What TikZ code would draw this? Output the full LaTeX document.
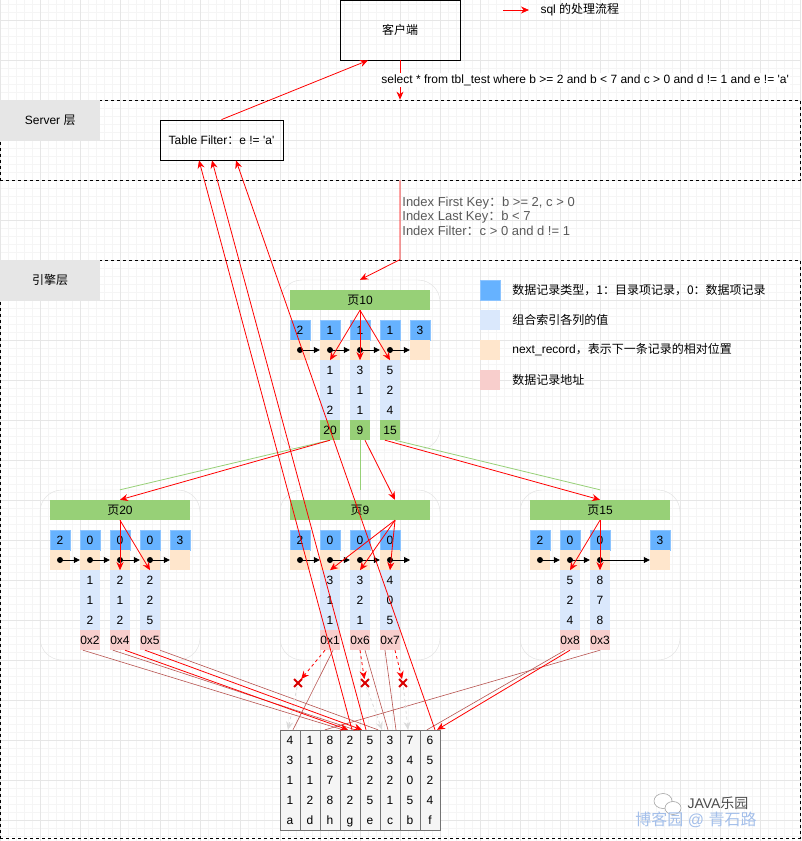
\documentclass[tikz,border=0pt]{standalone}
\usepackage{fontspec}
\setmainfont{Liberation Sans}[Ligatures=TeXOff]
\newfontfamily\cjk{Noto Sans CJK SC}
\usepackage{tikz}
\usetikzlibrary{positioning, arrows.meta, shapes.misc}

\definecolor{typeblue}{HTML}{66B2FF}
\definecolor{typeline}{HTML}{8CC4FF}
\definecolor{valblue}{HTML}{DAE8FC}
\definecolor{nextorange}{HTML}{FFE6CC}
\definecolor{addrpink}{HTML}{F8CECC}
\definecolor{pagegreen}{HTML}{97D077}
\definecolor{rowbrown}{HTML}{B85450}
\definecolor{layergray}{HTML}{E6E6E6}
\definecolor{gridmajor}{HTML}{E6E6E6}
\definecolor{gridminor}{HTML}{F5F5F5}
\definecolor{idxgray}{HTML}{5A5A5A}
\definecolor{markblue}{HTML}{A4BFEA}

\begin{document}
\begin{tikzpicture}[
  x=1pt, y=-1pt,
  font=\fontsize{12}{14}\selectfont,
  cell/.style={minimum width=20pt, minimum height=20pt, inner sep=0pt},
  typecell/.style={cell, fill=typeblue, draw=typeline},
  nextcell/.style={cell, fill=nextorange},
  valcell/.style={cell, fill=valblue},
  addrcell/.style={cell, fill=addrpink},
  ptrcell/.style={cell, fill=pagegreen},
  pagehead/.style={fill=pagegreen, minimum width=140pt, minimum height=20pt, inner sep=0pt},
  pagebox/.style={draw=black!12, rounded corners=22pt, minimum width=160pt, minimum height=170pt, inner sep=0pt},
  layer/.style={draw, dash pattern=on 3pt off 3pt, line width=0.8pt, minimum width=800pt, inner sep=0pt},
  layertag/.style={fill=layergray, minimum width=100pt, minimum height=40pt, inner sep=0pt},
  box/.style={draw, line width=0.8pt, inner sep=2pt},
  tabcol/.style={draw=black!55, fill=black!4, minimum width=20pt, minimum height=100pt, inner sep=0pt, align=center, text depth=0pt, font=\fontsize{12}{20}\selectfont},
  dropmark/.style={draw=red!85!black, cross out, line width=1.8pt, minimum size=6pt, inner sep=0pt},
  flow/.style={-{Stealth[length=8pt, width=7pt]}, red, line width=0.8pt},
  dropflow/.style={flow, dash pattern=on 3pt off 3pt},
  ghost/.style={-{Stealth[length=8pt, width=7pt]}, black!14, dash pattern=on 3pt off 3pt, line width=0.8pt},
  nextptr/.style={-{Triangle[length=6pt, width=6pt]}, line width=0.8pt},
  pagelink/.style={pagegreen, line width=0.8pt},
  rowref/.style={rowbrown, line width=0.6pt}
]
% --- grid ---
\useasboundingbox (0,0) rectangle (801,841);
\fill[white] (0,0) rectangle (801,841);
\foreach \gx in {0,8,...,800} \draw[gridminor, line width=0.5pt] (\gx,0) -- (\gx,841);
\foreach \gy in {4,12,...,836} \draw[gridminor, line width=0.5pt] (0,\gy) -- (801,\gy);
\foreach \gx in {0,40,...,800} \draw[gridmajor, line width=0.6pt] (\gx,0) -- (\gx,841);
\foreach \gy in {20,60,...,820} \draw[gridmajor, line width=0.6pt] (0,\gy) -- (801,\gy);

% --- layers ---
\node[layer, minimum height=80pt] (srv) at (400,140) {};
\node[layertag, anchor=north west] (srvtag) at (0,100) {Server {\cjk 层}};
\node[layer, minimum height=578pt] (eng) at (400,549) {};
\node[layertag, anchor=north west] (engtag) at (0,260) {{\cjk 引擎层}};

% --- client, server ---
\node[box, minimum width=120pt, minimum height=60pt] (client) at (400,30) {{\cjk 客户端}};
\node[box, minimum width=123pt, minimum height=40pt] (tf) at (221.5,140) {Table Filter{\cjk ：}e != 'a'};
\coordinate (lgs) at (503,10);
\coordinate (lge) at (529,10);
\draw[flow] (lgs) -- (lge);
\node[anchor=west] (lgtxt) at (537,10) {sql {\cjk 的处理流程}};

% --- legend ---
\node[typecell] (lgtype) at (490,290) {};
\node[right=12pt of lgtype, inner sep=0pt] {{\cjk 数据记录类型，1：目录项记录，0：数据项记录}};
\node[valcell] (lgval) at (490,320) {};
\node[right=12pt of lgval, inner sep=0pt] {{\cjk 组合索引各列的值}};
\node[nextcell] (lgnext) at (490,350) {};
\node[right=12pt of lgnext, inner sep=0pt] {next\_record{\cjk ，表示下一条记录的相对位置}};
\node[addrcell] (lgaddr) at (490,380) {};
\node[right=12pt of lgaddr, inner sep=0pt] {{\cjk 数据记录地址}};

% --- page 10 ---
\node[pagebox] (p10box) at (360,365) {};
\node[pagehead] (p10h) at (360,300) {{\cjk 页}10};
\foreach \i/\cx/\t in {1/300/2, 2/330/1, 3/360/1, 4/390/1, 5/420/3} {
  \node[typecell] (p10t\i) at (\cx,330) {\t};
  \node[nextcell] (p10n\i) at (\cx,350) {};
}
\foreach \i/\cx/\va/\vb/\vc/\pg in {2/330/1/1/2/20, 3/360/3/1/1/9, 4/390/5/2/4/15} {
  \node[valcell] (p10b\i) at (\cx,370) {\va};
  \node[valcell] (p10c\i) at (\cx,390) {\vb};
  \node[valcell] (p10d\i) at (\cx,410) {\vc};
  \node[ptrcell] (p10p\i) at (\cx,430) {\pg};
}
\foreach \i/\j in {1/2, 2/3, 3/4, 4/5} {
  \fill (p10n\i.center) circle (3pt);
  \draw[nextptr] (p10n\i.center) -- (p10n\j.west);
}

% --- page 20 ---
\node[pagebox] (p20box) at (120,575) {};
\node[pagehead] (p20h) at (120,510) {{\cjk 页}20};
\foreach \i/\cx/\t in {1/60/2, 2/90/0, 3/120/0, 4/150/0, 5/180/3} {
  \node[typecell] (p20t\i) at (\cx,540) {\t};
  \node[nextcell] (p20n\i) at (\cx,560) {};
}
\foreach \i/\cx/\va/\vb/\vc/\ad in {2/90/1/1/2/0x2, 3/120/2/1/2/0x4, 4/150/2/2/5/0x5} {
  \node[valcell] (p20b\i) at (\cx,580) {\va};
  \node[valcell] (p20c\i) at (\cx,600) {\vb};
  \node[valcell] (p20d\i) at (\cx,620) {\vc};
  \node[addrcell] (p20a\i) at (\cx,640) {\ad};
}
\foreach \i/\j in {1/2, 2/3, 3/4, 4/5} {
  \fill (p20n\i.center) circle (3pt);
  \draw[nextptr] (p20n\i.center) -- (p20n\j.west);
}

% --- page 9 ---
\node[pagebox] (p9box) at (360,575) {};
\node[pagehead] (p9h) at (360,510) {{\cjk 页}9};
\foreach \i/\cx/\t in {1/300/2, 2/330/0, 3/360/0, 4/390/0} {
  \node[typecell] (p9t\i) at (\cx,540) {\t};
  \node[nextcell] (p9n\i) at (\cx,560) {};
}
\foreach \i/\cx/\va/\vb/\vc/\ad in {2/330/3/1/1/0x1, 3/360/3/2/1/0x6, 4/390/4/0/5/0x7} {
  \node[valcell] (p9b\i) at (\cx,580) {\va};
  \node[valcell] (p9c\i) at (\cx,600) {\vb};
  \node[valcell] (p9d\i) at (\cx,620) {\vc};
  \node[addrcell] (p9a\i) at (\cx,640) {\ad};
}
\coordinate (p9tail) at (410,560);
\foreach \i/\j in {1/2, 2/3, 3/4} {
  \fill (p9n\i.center) circle (3pt);
  \draw[nextptr] (p9n\i.center) -- (p9n\j.west);
}
\fill (p9n4.center) circle (3pt);
\draw[nextptr] (p9n4.center) -- (p9tail);

% --- page 15 ---
\node[pagebox] (p15box) at (600,575) {};
\node[pagehead] (p15h) at (600,510) {{\cjk 页}15};
\foreach \i/\cx/\t in {1/540/2, 2/570/0, 3/600/0, 4/660/3} {
  \node[typecell] (p15t\i) at (\cx,540) {\t};
  \node[nextcell] (p15n\i) at (\cx,560) {};
}
\foreach \i/\cx/\va/\vb/\vc/\ad in {2/570/5/2/4/0x8, 3/600/8/7/8/0x3} {
  \node[valcell] (p15b\i) at (\cx,580) {\va};
  \node[valcell] (p15c\i) at (\cx,600) {\vb};
  \node[valcell] (p15d\i) at (\cx,620) {\vc};
  \node[addrcell] (p15a\i) at (\cx,640) {\ad};
}
\foreach \i/\j in {1/2, 2/3, 3/4} {
  \fill (p15n\i.center) circle (3pt);
  \draw[nextptr] (p15n\i.center) -- (p15n\j.west);
}

% --- table rows ---
\foreach \k/\cx/\ra/\rb/\rc/\rd in {a/290/4/3/1/1, d/310/1/1/1/2, h/330/8/8/7/8, g/350/2/2/1/2, e/370/5/2/2/5, c/390/3/3/2/1, b/410/7/4/0/5, f/430/6/5/2/4}
  \node[tabcol] (tcol-\k) at (\cx,780) {\ra\\\rb\\\rc\\\rd\\\k};

% --- filtered records ---
\node[dropmark] (x1) at (298,683) {};
\node[dropmark] (x2) at (365,683) {};
\node[dropmark] (x3) at (403,683) {};

% --- watermark ---
\draw[black!35, line width=0.6pt, fill=white] (663,801) ellipse (9pt and 7.5pt);
\draw[black!35, line width=0.6pt, fill=white] (673,808) ellipse (8pt and 6.5pt);
\node[text=black!70, font=\fontsize{14}{16}\selectfont] (wmjava) at (718,803) {JAVA{\cjk 乐园}};
\node[text=markblue, font=\fontsize{16}{18}\selectfont] (wmblog) at (696,820) {{\cjk 博客园} @ {\cjk 青石路}};

% --- sql flow ---
\draw[flow] (client.south) -- (srv.north)
  node[pos=0.5, anchor=west, xshift=-20pt, fill=white, text=black, inner sep=1pt] (sqltxt) {select * from tbl\_test where b >= 2 and b < 7 and c > 0 and d != 1 and e != 'a'};
\draw[flow] (srv.south) -- (eng.north)
  node[pos=0.45, anchor=west, align=left, inner sep=2pt, text=idxgray, font=\fontsize{13}{14.5}\selectfont] (idxtxt) {Index First Key{\cjk ：}b >= 2, c > 0\\Index Last Key{\cjk ：}b < 7\\Index Filter{\cjk ：}c > 0 and d != 1}
  -- (p10box.north);
\draw[flow] (tf.north) -- ([xshift=-32pt]client.south);

% --- page 10 -> leaves ---
\draw[pagelink] (p10p2.south) -- (p20box.north);
\draw[pagelink] (p10p3.south) -- (p9box.north);
\draw[pagelink] ([xshift=5pt]p10p4.south) -- (p15box.north);
\draw[flow] (p10p2.south) -- (p20h.north);
\draw[flow] ([xshift=5pt]p10p3.south) -- ([xshift=35pt]p9h.north);
\draw[flow] ([xshift=-5pt]p10p4.south) -- (p15h.north);
\foreach \i in {2,3,4} \draw[flow] (p10h.south) -- (p10n\i.south);
\foreach \i in {3,4} \draw[flow] (p20h.south) -- (p20n\i.south);
\foreach \i in {2,3,4} \draw[flow] ([xshift=35pt]p9h.south) -- (p9n\i.south);
\foreach \i in {2,3} \draw[flow] (p15h.south) -- (p15n\i.south);

% --- record addresses -> table ---
\draw[rowref] ([xshift=-7pt]p20a2.south) -- ([xshift=-7pt]tcol-g.north);
\draw[rowref] ([xshift=-7pt]p20a3.south) -- ([xshift=5pt]tcol-g.north);
\draw[rowref] ([xshift=10pt]p20a4.south) -- ([xshift=8pt]tcol-e.north);
\draw[rowref] ([xshift=3pt]p9a2.south) -- ([xshift=3pt]tcol-a.north);
\draw[rowref] ([xshift=5pt]p9a3.south) -- ([xshift=-2pt]tcol-c.north);
\draw[rowref] ([xshift=-5pt]p9a4.south) -- ([xshift=-14pt]tcol-b.north);
\draw[rowref] ([xshift=-5pt]p15a2.south) -- ([xshift=-3pt]tcol-f.north);
\draw[rowref] (p15a3.south) -- ([xshift=-5pt]tcol-h.north);
\draw[dropflow] ([xshift=-5pt]p9a2.south) -- (x1);
\draw[dropflow] (p9a3.south) -- (x2);
\draw[dropflow] ([xshift=5pt]p9a4.south) -- (x3);
\draw[ghost] (x1) -- ([xshift=-2pt]tcol-a.north);
\draw[ghost] (x2) -- ([xshift=-8pt]tcol-c.north);
\draw[ghost] (x3) -- ([xshift=-2pt]tcol-b.north);
\draw[flow] ([xshift=5pt]p20a3.south) -- ([xshift=-2pt]tcol-g.north);
\draw[flow] ([xshift=-5pt]p20a4.south) -- ([xshift=-8pt]tcol-e.north);
\draw[flow] (p15a2.south) -- ([xshift=7pt]tcol-f.north);

% --- table -> table filter ---
\draw[flow] ([xshift=2pt]tcol-g.north) -- ([xshift=-22.5pt]tf.south);
\draw[flow] ([xshift=-4pt]tcol-e.north) -- ([xshift=-9.5pt]tf.south);
\draw[flow] ([xshift=5pt]tcol-f.north) -- ([xshift=14.5pt]tf.south);
\end{tikzpicture}
\end{document}
